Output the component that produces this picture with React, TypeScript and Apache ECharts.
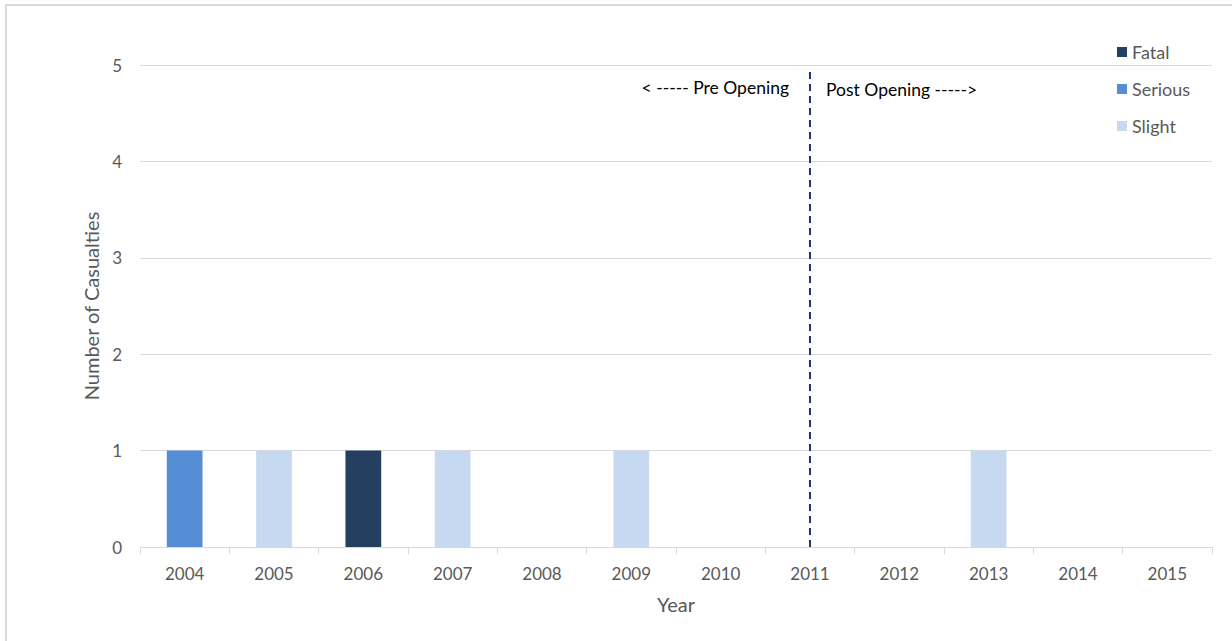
import React, { useEffect, useRef } from "react";
import * as echarts from "echarts";

const years = ["2004", "2005", "2006", "2007", "2008", "2009", "2010", "2011", "2012", "2013", "2014", "2015"];
const fatal = [0, 0, 1, 0, 0, 0, 0, 0, 0, 0, 0, 0];
const serious = [1, 0, 0, 0, 0, 0, 0, 0, 0, 0, 0, 0];
const slight = [0, 1, 0, 1, 0, 1, 0, 0, 0, 1, 0, 0];
const openingYear = "2011";

const FONT = "Lato, 'Open Sans', sans-serif";
const GREY = "#595959";

export default function App() {
  const ref = useRef<HTMLDivElement>(null);
  useEffect(() => {
    if (!ref.current) return;
    const chart = echarts.init(ref.current, undefined, { renderer: "svg" });
    const barCommon = { type: "bar", stack: "total", barWidth: "40%" };
    chart.setOption({
      animation: false,
      textStyle: { fontFamily: FONT },
      grid: { left: 140, right: 20, top: 65, bottom: 94 },
      legend: {
        orient: "vertical",
        left: 1112,
        top: 38,
        icon: "rect",
        itemWidth: 10,
        itemHeight: 10,
        itemGap: 19,
        textStyle: { color: GREY, fontSize: 18, fontFamily: FONT },
        data: ["Fatal", "Serious", "Slight"],
      },
      xAxis: {
        type: "category",
        data: years,
        name: "Year",
        nameLocation: "middle",
        nameGap: 47,
        nameTextStyle: { color: GREY, fontSize: 20, fontFamily: FONT },
        axisLine: { lineStyle: { color: "#d9d9d9", width: 1 } },
        axisTick: { show: true, length: 7, lineStyle: { color: "#d9d9d9" } },
        axisLabel: { color: GREY, fontSize: 17, margin: 18, fontFamily: FONT },
      },
      yAxis: {
        type: "value",
        min: 0,
        max: 5,
        interval: 1,
        name: "Number of Casualties",
        nameLocation: "middle",
        nameGap: 37,
        nameTextStyle: { color: GREY, fontSize: 20, fontFamily: FONT },
        axisLine: { show: false },
        axisTick: { show: false },
        axisLabel: { color: GREY, fontSize: 17, margin: 18, fontFamily: FONT },
        splitLine: { lineStyle: { color: "#d9d9d9", width: 1 } },
      },
      series: [
        {
          ...barCommon,
          name: "Fatal",
          data: fatal,
          itemStyle: { color: "#243f60" },
          markLine: {
            symbol: "none",
            silent: true,
            label: { show: false },
            lineStyle: { color: "#1f3864", width: 2, type: [7, 5] },
            data: [[{ coord: [openingYear, 0] }, { coord: [openingYear, 4.95] }]],
          },
        },
        { ...barCommon, name: "Serious", data: serious, itemStyle: { color: "#558ed5" } },
        { ...barCommon, name: "Slight", data: slight, itemStyle: { color: "#c6d9f1" } },
      ],
      graphic: [
        {
          type: "rect",
          shape: { x: 6, y: 5, width: 1240, height: 660 },
          style: { fill: "none", stroke: "#d9d9d9", lineWidth: 2 },
          silent: true,
        },
        {
          type: "text",
          x: 789,
          y: 87,
          style: {
            text: "< ----- Pre Opening",
            fill: "#000",
            fontSize: 17.5,
            fontFamily: FONT,
            align: "right",
            verticalAlign: "middle",
          },
        },
        {
          type: "text",
          x: 826,
          y: 89,
          style: {
            text: "Post Opening ----->",
            fill: "#000",
            fontSize: 17.5,
            fontFamily: FONT,
            align: "left",
            verticalAlign: "middle",
          },
        },
      ],
    });
    return () => chart.dispose();
  }, []);
  return (
    <div
      ref={ref}
      style={{ position: "fixed", left: 0, top: 0, width: 1232, height: 641, background: "#fff" }}
    />
  );
}
